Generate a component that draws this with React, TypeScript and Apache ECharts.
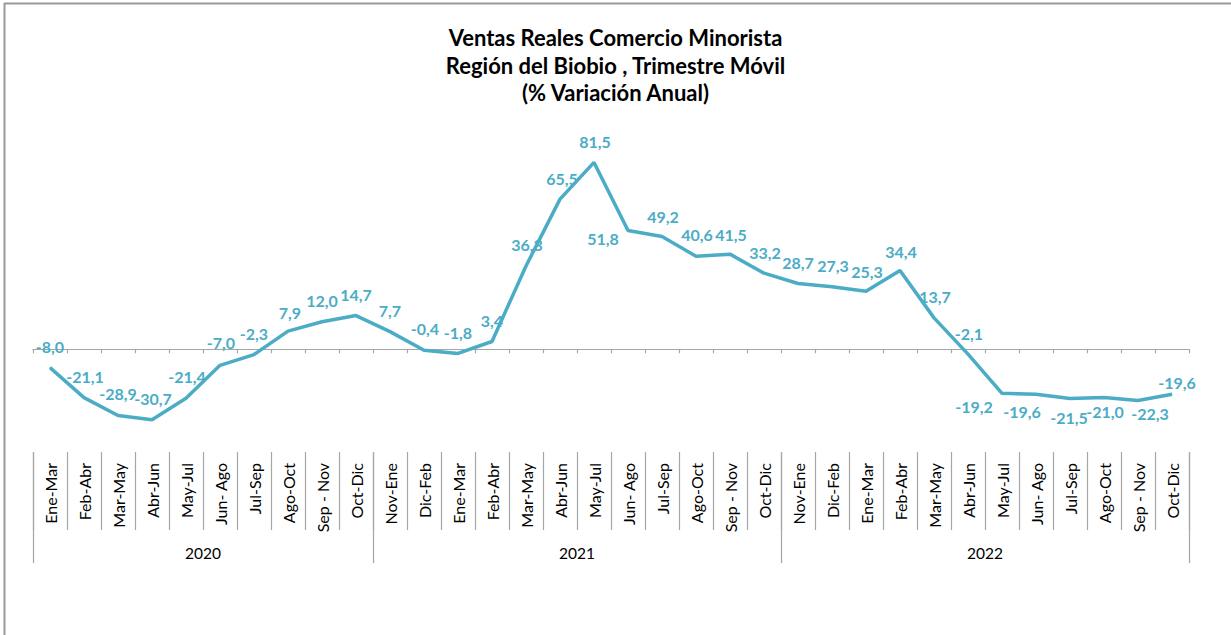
import React, { useEffect, useRef } from "react";
import * as echarts from "echarts";

const categories = [
  "Ene-Mar", "Feb-Abr", "Mar-May", "Abr-Jun", "May-Jul", "Jun- Ago", "Jul-Sep", "Ago-Oct", "Sep - Nov", "Oct-Dic",
  "Nov-Ene", "Dic-Feb", "Ene-Mar", "Feb-Abr", "Mar-May", "Abr-Jun", "May-Jul", "Jun- Ago", "Jul-Sep", "Ago-Oct", "Sep - Nov", "Oct-Dic",
  "Nov-Ene", "Dic-Feb", "Ene-Mar", "Feb-Abr", "Mar-May", "Abr-Jun", "May-Jul", "Jun- Ago", "Jul-Sep", "Ago-Oct", "Sep - Nov", "Oct-Dic",
];

const values = [
  -8.0, -21.1, -28.9, -30.7, -21.4, -7.0, -2.3, 7.9, 12.0, 14.7,
  7.7, -0.4, -1.8, 3.4, 36.3, 65.5, 81.5, 51.8, 49.2, 40.6, 41.5, 33.2,
  28.7, 27.3, 25.3, 34.4, 13.7, -2.1, -19.2, -19.6, -21.5, -21.0, -22.3, -19.6,
];

const years = ["2020", "2021", "2022"];
const groupSizes = [10, 12, 12];

// label placement (styling only)
const labelOffsets: [number, number][] = [
  [0, -21], [1, -21], [0, -22], [1, -21], [1, -22], [1, -23], [0, -21], [2, -19], [0, -21], [0, -21],
  [0, -21], [1, -22], [0, -21], [0, -21], [1, -22], [2, -21], [1, -21], [-25, 8], [1, -20], [1, -22], [1, -20], [1, -21],
  [0, -21], [1, -21], [1, -20], [1, -19], [1, -21], [1, -21], [-28, 13], [-14, 17], [-1, 19], [1, 14], [12, 13], [5, -12],
];

const LINE = "#4BACC6";
const FONT = "Lato";

export default function App() {
  const ref = useRef<HTMLDivElement>(null);

  useEffect(() => {
    if (!ref.current) return;
    const chart = echarts.init(ref.current, null, { renderer: "svg" });

    const groupStarts: number[] = [];
    const groupCenters: Record<number, string> = {};
    let acc = 0;
    groupSizes.forEach((s, i) => {
      groupStarts.push(acc);
      groupCenters[acc + s / 2] = years[i];
      acc += s;
    });

    const total = categories.length;

    chart.setOption({
      animation: false,
      backgroundColor: "#ffffff",
      title: {
        text: "Ventas Reales Comercio Minorista\nRegión del Biobio , Trimestre Móvil\n(% Variación Anual)",
        left: "center",
        top: 19,
        textStyle: {
          fontFamily: FONT,
          fontWeight: "bold",
          fontSize: 22,
          lineHeight: 27.5,
          color: "#000000",
        },
      },
      graphic: [
        { type: "line", shape: { x1: 4, y1: 3.5, x2: 1231, y2: 3.5 }, style: { stroke: "#9a9a9a", lineWidth: 2 } },
        { type: "line", shape: { x1: 4.5, y1: 3, x2: 4.5, y2: 635 }, style: { stroke: "#9a9a9a", lineWidth: 2 } },
      ],
      grid: { left: 33, right: 42, top: 120, height: 321, containLabel: false },
      yAxis: {
        type: "value",
        min: -40,
        max: 100,
        show: false,
      },
      xAxis: [
        {
          type: "category",
          data: categories,
          boundaryGap: true,
          axisLine: { show: true, onZero: true, lineStyle: { color: "#a6a6a6", width: 1.2 } },
          axisTick: { show: true, interval: 0, length: 4, lineStyle: { color: "#a6a6a6", width: 1.2 } },
          axisLabel: { show: false },
          splitLine: { show: false },
        },
        {
          type: "category",
          data: categories,
          position: "bottom",
          offset: 11,
          boundaryGap: true,
          axisLine: { show: false, onZero: false },
          axisTick: { show: true, interval: 0, length: 78, lineStyle: { color: "#a6a6a6", width: 1.2 } },
          axisLabel: {
            show: true,
            interval: 0,
            rotate: 90,
            margin: 11,
            fontFamily: FONT,
            fontSize: 16,
            color: "#000000",
          },
          splitLine: { show: false },
        },
        {
          type: "category",
          data: categories,
          position: "bottom",
          offset: 11,
          boundaryGap: true,
          axisLine: { show: false, onZero: false },
          axisTick: {
            show: true,
            length: 111,
            interval: (idx: number) => groupStarts.indexOf(idx) >= 0,
            lineStyle: { color: "#a6a6a6", width: 1.2 },
          },
          axisLabel: { show: false },
          splitLine: { show: false },
        },
        {
          type: "value",
          min: 0,
          max: total,
          interval: 1,
          position: "bottom",
          offset: 0,
          axisLine: { show: false, onZero: false },
          axisTick: { show: false },
          splitLine: { show: false },
          axisLabel: {
            show: true,
            margin: 104,
            fontFamily: FONT,
            fontSize: 15.5,
            color: "#000000",
            formatter: (v: number) => groupCenters[v] || "",
          },
        },
      ],
      series: [
        {
          type: "line",
          xAxisIndex: 0,
          yAxisIndex: 0,
          symbol: "circle",
          symbolSize: 1,
          showSymbol: true,
          itemStyle: { color: LINE },
          lineStyle: { color: LINE, width: 3.5 },
          data: values.map((v, i) => ({
            value: v,
            label: { offset: labelOffsets[i] },
          })),
          label: {
            show: true,
            position: "inside",
            fontFamily: FONT,
            fontWeight: "bold",
            fontSize: 16,
            color: LINE,
            formatter: (p: any) => Number(p.value).toFixed(1).replace(".", ","),
          },
          z: 3,
        },
      ],
    });

    return () => chart.dispose();
  }, []);

  return (
    <div
      ref={ref}
      style={{ position: "fixed", left: 0, top: 0, width: 1231, height: 635, background: "#fff" }}
    />
  );
}
